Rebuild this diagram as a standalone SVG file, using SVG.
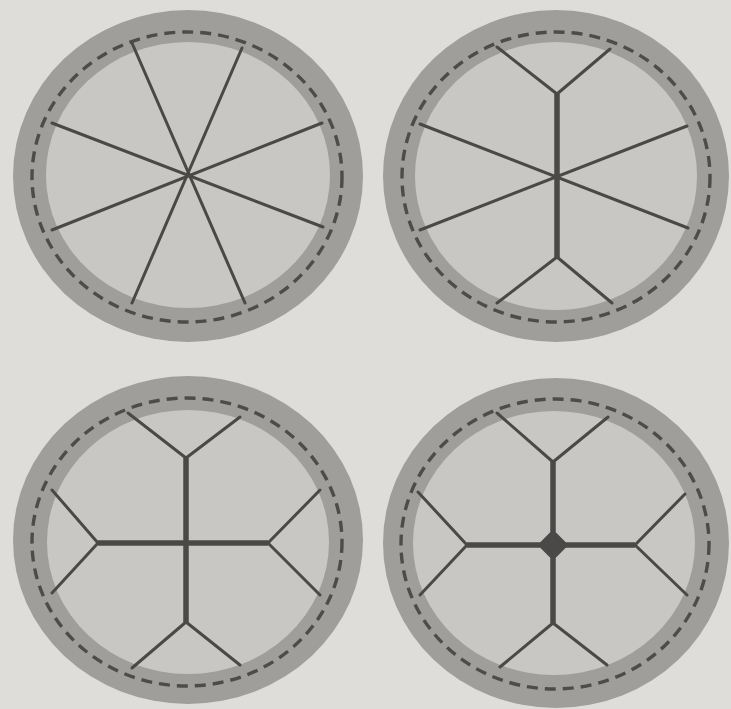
<svg xmlns="http://www.w3.org/2000/svg" width="731" height="709" viewBox="0 0 731 709">
<style>
.ring{fill:#a09e9b}
.inner{fill:#c9c7c4}
.dash{fill:none;stroke:#4d4c4b;stroke-width:3.4;stroke-dasharray:11 7}
.thin{stroke:#4a4948;stroke-width:3;stroke-linecap:round;stroke-linejoin:round;fill:none}
.thick{stroke:#4a4948;stroke-width:5.5;stroke-linecap:butt;fill:none}
</style>
<rect width="731" height="709" fill="#dfddda"/>
<g id="wheel1">
<ellipse class="ring" cx="188" cy="176" rx="175" ry="166"/>
<ellipse class="inner" cx="188" cy="175" rx="142" ry="133"/>
<ellipse class="dash" cx="187" cy="177" rx="155" ry="145"/>
<g id="spokes1">
<line class="thin" x1="132" y1="43" x2="245" y2="303"/>
<line class="thin" x1="242" y1="48" x2="132" y2="303"/>
<line class="thin" x1="52" y1="123" x2="323" y2="227"/>
<line class="thin" x1="322" y1="123" x2="52" y2="230"/>
</g>
</g>
<g id="wheel2">
<ellipse class="ring" cx="556" cy="176" rx="173" ry="166"/>
<ellipse class="inner" cx="556" cy="176" rx="141" ry="134"/>
<ellipse class="dash" cx="556" cy="177" rx="154" ry="145"/>
<g id="spokes2">
<line class="thick" x1="557" y1="94" x2="557" y2="257"/>
<polyline class="thin" points="497,47 557,94 610,49"/>
<polyline class="thin" points="497,303 557,257 612,303"/>
<line class="thin" x1="420" y1="124" x2="688" y2="228"/>
<line class="thin" x1="420" y1="230" x2="687" y2="126"/>
</g>
</g>
<g id="wheel3">
<ellipse class="ring" cx="188" cy="540" rx="175" ry="164"/>
<ellipse class="inner" cx="188" cy="542" rx="141" ry="132"/>
<ellipse class="dash" cx="187" cy="542" rx="155" ry="144"/>
<g id="spokes3">
<line class="thick" x1="186" y1="458" x2="186" y2="622"/>
<line class="thick" x1="98" y1="543" x2="268" y2="543"/>
<polyline class="thin" points="128,413 186,458 240,417"/>
<polyline class="thin" points="132,668 186,622 240,665"/>
<polyline class="thin" points="52,490 98,543 52,593"/>
<polyline class="thin" points="320,490 268,543 320,595"/>
</g>
</g>
<g id="wheel4">
<ellipse class="ring" cx="556" cy="543" rx="173" ry="165"/>
<ellipse class="inner" cx="554" cy="543" rx="141" ry="132"/>
<ellipse class="dash" cx="555" cy="544" rx="154" ry="145"/>
<g id="spokes4">
<line class="thick" x1="553" y1="462" x2="553" y2="623"/>
<line class="thick" x1="467" y1="545" x2="635" y2="545"/>
<polyline class="thin" points="497,413 553,462 608,417"/>
<polyline class="thin" points="500,667 553,623 607,665"/>
<polyline class="thin" points="418,492 467,545 420,595"/>
<polyline class="thin" points="685,494 635,545 687,595"/>
<rect x="542" y="534" width="22" height="22" rx="5" fill="#4a4948" transform="rotate(45 553 545)"/>
</g>
</g>
</svg>
